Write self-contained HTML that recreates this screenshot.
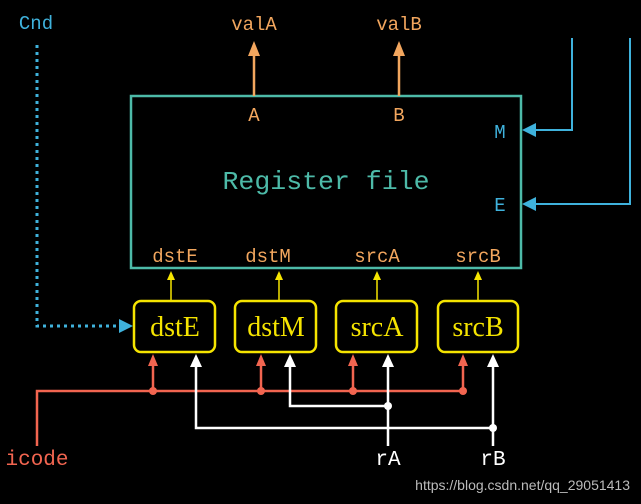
<!DOCTYPE html>
<html><head><meta charset="utf-8"><style>
html,body{margin:0;padding:0;background:#000;}
svg{display:block}
.m{font-family:"Liberation Mono",monospace;}
.s{font-family:"Liberation Serif",serif;}
</style></head><body>
<svg width="641" height="504" viewBox="0 0 641 504">
<rect width="641" height="504" fill="#000"/>
<rect x="131" y="96" width="390" height="172" fill="none" stroke="#4dbaa8" stroke-width="2.5"/>
<text x="326" y="189" text-anchor="middle" class="m" font-size="26" fill="#4dbaa8" textLength="207" lengthAdjust="spacingAndGlyphs">Register file</text>
<g class="m" font-size="19" fill="#f2a65e" text-anchor="middle">
<text x="254" y="30">valA</text><text x="399" y="30">valB</text>
<text x="254" y="121">A</text><text x="399" y="121">B</text>
<text x="175" y="262">dstE</text><text x="268" y="262">dstM</text><text x="377" y="262">srcA</text><text x="478" y="262">srcB</text>
</g>
<g stroke="#f2a65e" stroke-width="2.5"><line x1="254" y1="96" x2="254" y2="54"/><line x1="399" y1="96" x2="399" y2="54"/></g>
<g fill="#f2a65e"><path d="M248,56 L254,41 L260,56Z"/><path d="M393,56 L399,41 L405,56Z"/></g>
<g class="m" font-size="19" fill="#3fb2dc" text-anchor="middle"><text x="500" y="138">M</text><text x="500" y="211">E</text>
<text x="36" y="29">Cnd</text></g>
<g stroke="#3fb2dc" stroke-width="2" fill="none"><path d="M572,38 V130 H534"/><path d="M630,38 V204 H534"/></g>
<g fill="#3fb2dc"><path d="M522,130 L536,123 L536,137Z"/><path d="M522,204 L536,197 L536,211Z"/></g>
<path d="M37,45 V326 H120" stroke="#3fb2dc" stroke-width="3" stroke-dasharray="3,4" fill="none"/>
<path d="M133,326 L119,319 L119,333Z" fill="#3fb2dc"/>
<g fill="none" stroke="#f5e400" stroke-width="2.5">
<rect x="134" y="301" width="81" height="51" rx="7"/><rect x="235" y="301" width="81" height="51" rx="7"/>
<rect x="336" y="301" width="81" height="51" rx="7"/><rect x="438" y="301" width="80" height="51" rx="7"/>
</g>
<g class="s" font-size="28" fill="#f5e400" text-anchor="middle">
<text x="175" y="336">dstE</text><text x="276" y="336">dstM</text><text x="377" y="336">srcA</text><text x="478" y="336">srcB</text>
</g>
<g stroke="#f5e400" stroke-width="1.5"><line x1="171" y1="301" x2="171" y2="278"/><line x1="279" y1="301" x2="279" y2="278"/><line x1="377" y1="301" x2="377" y2="278"/><line x1="478" y1="301" x2="478" y2="278"/></g>
<g fill="#f5e400"><path d="M167,280 L171,271 L175,280Z"/><path d="M275,280 L279,271 L283,280Z"/><path d="M373,280 L377,271 L381,280Z"/><path d="M474,280 L478,271 L482,280Z"/></g>
<g stroke="#f26550" stroke-width="2.5" fill="none"><path d="M37,446 V391 H463"/>
<line x1="153" y1="391" x2="153" y2="365"/><line x1="261" y1="391" x2="261" y2="365"/><line x1="353" y1="391" x2="353" y2="365"/><line x1="463" y1="391" x2="463" y2="365"/></g>
<g fill="#f26550"><circle cx="153" cy="391" r="4"/><circle cx="261" cy="391" r="4"/><circle cx="353" cy="391" r="4"/><circle cx="463" cy="391" r="4"/>
<path d="M148,366 L153,354 L158,366Z"/><path d="M256,366 L261,354 L266,366Z"/><path d="M348,366 L353,354 L358,366Z"/><path d="M458,366 L463,354 L468,366Z"/></g>
<text x="37" y="465" text-anchor="middle" class="m" font-size="21" fill="#f26550">icode</text>
<g stroke="#fff" stroke-width="2.5" fill="none"><line x1="388" y1="446" x2="388" y2="366"/><line x1="493" y1="446" x2="493" y2="366"/>
<path d="M388,406 H290 V366"/><path d="M493,428 H196 V366"/></g>
<g fill="#fff"><circle cx="388" cy="406" r="4"/><circle cx="493" cy="428" r="4"/>
<path d="M382,367 L388,354 L394,367Z"/><path d="M487,367 L493,354 L499,367Z"/><path d="M284,367 L290,354 L296,367Z"/><path d="M190,367 L196,354 L202,367Z"/></g>
<g class="m" font-size="21" fill="#fff" text-anchor="middle"><text x="388" y="465">rA</text><text x="493" y="465">rB</text></g>
<text x="630" y="490" text-anchor="end" font-family="Liberation Sans,sans-serif" font-size="14" fill="#bbbbbb">https://blog.csdn.net/qq_29051413</text>
</svg>
</body></html>
